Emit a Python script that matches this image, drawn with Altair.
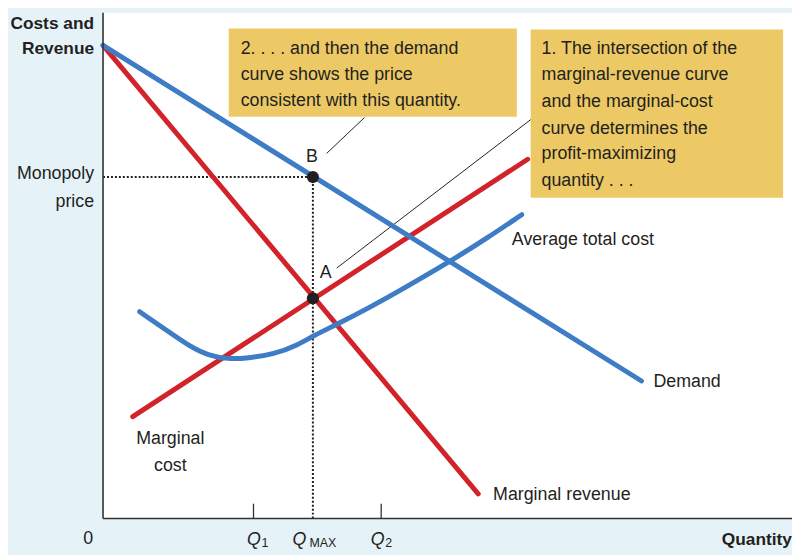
import altair as alt
import pandas as pd

# ---- data (x = quantity units, y = cost/revenue units) ----
demand_q = [0, 544]
demand_c = [478, 139]
mr_q = [0, 379]
mr_c = [478, 25]
mc_q = [30, 429]
mc_c = [103, 363]
atc_q = [37, 63, 89, 106, 126, 146, 173, 196, 213, 236, 269, 303, 351, 386, 423]
atc_c = [209, 191, 173, 165, 161, 162, 166, 175, 185, 196, 213, 232, 260, 282, 307]

q_max = 212
monopoly_price = 345
mc_at_qmax = 222.5
q1 = 152
q2 = 281

XMAX, YMAX = 696, 511

RED = "#d2232a"
BLUE = "#3f7cc6"
YELLOW = "#edc965"
INK = "#231f20"
BG = "#e5f3f8"
FONT = "Liberation Sans, Arial, sans-serif"
FS = 18

xs = alt.Scale(domain=[0, XMAX], nice=False, zero=False)
ys = alt.Scale(domain=[0, YMAX], nice=False, zero=False)


def X(field="q", **kw):
    return alt.X(f"{field}:Q", scale=xs, axis=None, **kw)


def Y(field="c", **kw):
    return alt.Y(f"{field}:Q", scale=ys, axis=None, **kw)


def line(qs, cs, color, interp="linear"):
    df = pd.DataFrame({"q": qs, "c": cs, "o": list(range(len(qs)))})
    return alt.Chart(df).mark_line(
        color=color, strokeWidth=5, strokeCap="round", interpolate=interp
    ).encode(x=X(), y=Y(), order="o:Q")


# axis lines
axis_df = pd.DataFrame({"x1": [0, 0], "x2": [0, XMAX], "y1": [0, 0], "y2": [YMAX, 0]})
axes = alt.Chart(axis_df).mark_rule(color="#333333", strokeWidth=1.6).encode(
    x=X("x1"), x2="x2:Q", y=Y("y1"), y2="y2:Q"
)

# annotation boxes
box_df = pd.DataFrame({
    "x1": [127, 432], "x2": [418, 687], "y1": [406, 324], "y2": [495, 494]
})
boxes = alt.Chart(box_df).mark_rect(color=YELLOW).encode(
    x=X("x1"), x2="x2:Q", y=Y("y1"), y2="y2:Q"
)

# leader lines
lead_df = pd.DataFrame({
    "x1": [226, 236], "x2": [264, 432], "y1": [369, 253], "y2": [405, 403]
})
leaders = alt.Chart(lead_df).mark_rule(color=INK, strokeWidth=1).encode(
    x=X("x1"), x2="x2:Q", y=Y("y1"), y2="y2:Q"
)

# dotted guide lines
dot_df = pd.DataFrame({
    "x1": [0, q_max], "x2": [q_max, q_max], "y1": [monopoly_price, 0], "y2": [monopoly_price, monopoly_price]
})
dotted = alt.Chart(dot_df).mark_rule(color=INK, strokeWidth=2, strokeDash=[2, 2]).encode(
    x=X("x1"), x2="x2:Q", y=Y("y1"), y2="y2:Q"
)

# small ticks at Q1, Q2
tick_df = pd.DataFrame({"q": [q1, q2], "c0": [0, 0], "c1": [15, 15]})
ticks = alt.Chart(tick_df).mark_rule(color="#333333", strokeWidth=1.3).encode(
    x=X(), y=Y("c0"), y2="c1:Q"
)

# points A and B
pts = alt.Chart(pd.DataFrame({"q": [q_max, q_max], "c": [monopoly_price, mc_at_qmax]})).mark_circle(
    color=INK, opacity=1, size=150
).encode(x=X(), y=Y())


def texts(rows, align="left", size=FS, weight="normal", style="normal", baseline="middle"):
    df = pd.DataFrame(rows, columns=["q", "c", "t"])
    return alt.Chart(df).mark_text(
        align=align, baseline=baseline, font=FONT, fontSize=size, fontWeight=weight,
        fontStyle=style, color=INK
    ).encode(x=X(), y=Y(), text="t:N")


curve_labels = texts([
    (556, 138, "Demand"),
    (394, 24, "Marginal revenue"),
    (413, 281, "Average total cost"),
])
box2_text = texts([
    (139, 474, "2. . . . and then the demand"),
    (139, 448, "curve shows the price"),
    (139, 422, "consistent with this quantity."),
])
box1_text = texts([
    (443, 474, "1. The intersection of the"),
    (443, 448, "marginal-revenue curve"),
    (443, 421, "and the marginal-cost"),
    (443, 394, "curve determines the"),
    (443, 368, "profit-maximizing"),
    (443, 341, "quantity . . ."),
])
center_labels = texts([
    (68, 80, "Marginal"),
    (68, 53, "cost"),
    (225, 248, "A"),
    (211, 365, "B"),
    (-15, -21, "0"),
], align="center")
y_labels = texts([
    (-9, 348, "Monopoly"),
    (-9, 320, "price"),
], align="right")
bold_labels = texts([
    (-9, 500, "Costs and"),
    (-9, 474, "Revenue"),
    (696, -22, "Quantity"),
], align="right", size=17.5, weight="bold")
q_labels = texts([
    (152.5, -22, "Q"),
    (198.5, -22, "Q"),
    (277.5, -22, "Q"),
], align="center", size=18, style="italic")
sub_labels = texts([
    (163.5, -25, "1"),
    (222, -25, "MAX"),
    (288.5, -25, "2"),
], align="center", size=12.5)

chart = alt.layer(
    boxes, leaders, dotted, ticks,
    line(mc_q, mc_c, RED), line(mr_q, mr_c, RED),
    line(demand_q, demand_c, BLUE), line(atc_q, atc_c, BLUE, "basis"),
    axes, pts,
    curve_labels, box2_text, box1_text, center_labels, y_labels, bold_labels, q_labels, sub_labels,
).properties(
    width=XMAX, height=YMAX,
    padding={"left": 96, "top": 2, "right": 0, "bottom": 34},
    autosize=alt.AutoSizeParams(type="none"),
    background=BG,
).configure_view(
    fill="white", stroke=None
)

chart.save("out.html", embed_options={"renderer": "svg", "actions": False})
